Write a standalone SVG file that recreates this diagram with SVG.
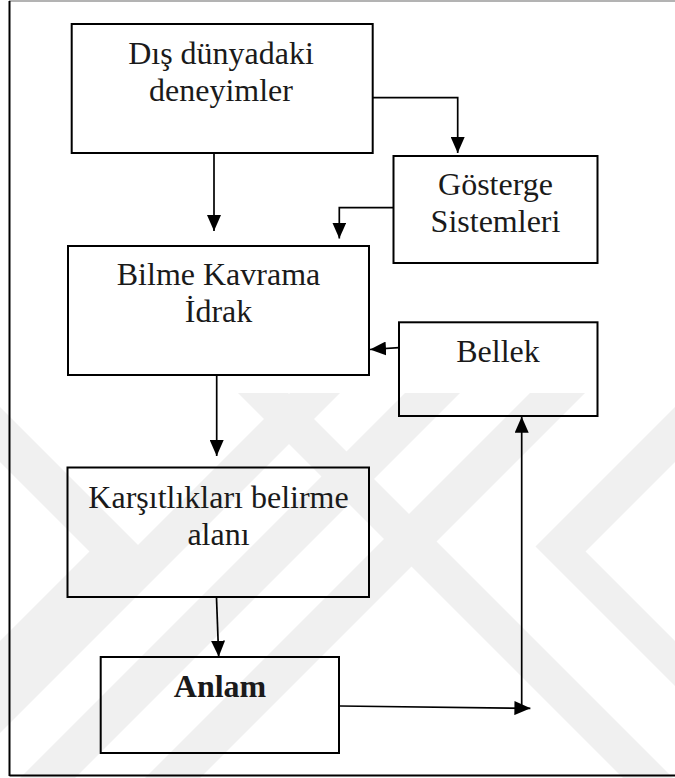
<svg xmlns="http://www.w3.org/2000/svg" width="675" height="778" viewBox="0 0 675 778">
  <style>
    .box { fill: none; stroke: #000; stroke-width: 2; }
    .lbl { font-family: "Liberation Serif", "Times New Roman", serif; font-size: 32px; fill: #1a1a1a; text-anchor: middle; }
    .bold { font-weight: bold; }
    .conn { fill: none; stroke: #000; stroke-width: 1.7; }
    .wm { fill: #f0f0f0; }
  </style>
  <defs>
    <marker id="ah" markerUnits="userSpaceOnUse" markerWidth="16" markerHeight="14" refX="16" refY="7" orient="auto">
      <path d="M0,0 L16,7 L0,14 z" fill="#000"/>
    </marker>
  </defs>
  <rect x="0" y="0" width="675" height="778" fill="#fff"/>
  <g id="watermark">
    <polygon class="wm" points="290,393 340,393 -45,778 -95,778"/>
    <polygon class="wm" points="405,393 460,393 75,778 20,778"/>
    <polygon class="wm" points="530,393 585,393 200,778 145,778"/>
    <polygon class="wm" points="675,407 535.5,546.5 675,686 675,641 585.5,551.5 675,462"/>
    <polygon class="wm" points="238,393 288,393 673,778 623,778"/>
    <polygon class="wm" points="0,407 139.5,546.5 0,686 0,641 89.5,551.5 0,462"/>
  </g>
  <g id="frame">
    <line x1="9" y1="1" x2="675" y2="1" stroke="#9a9a9a" stroke-width="1.5"/>
    <line x1="9.5" y1="1" x2="9.5" y2="776" stroke="#000" stroke-width="2"/>
    <line x1="9.5" y1="775.5" x2="675" y2="775.5" stroke="#000" stroke-width="2"/>
  </g>
  <g id="connectors">
    <path class="conn" d="M214,154 L214,231" marker-end="url(#ah)"/>
    <path class="conn" d="M372.5,97.7 L457.7,97.7 L457.7,153" marker-end="url(#ah)"/>
    <path class="conn" d="M393.5,207.7 L339.3,207.7 L339.3,238.5" marker-end="url(#ah)"/>
    <path class="conn" d="M399,347.7 L370,349.5" marker-end="url(#ah)"/>
    <path class="conn" d="M216.7,376 L216.7,456" marker-end="url(#ah)"/>
    <path class="conn" d="M216.5,597.7 L218.7,656.7" marker-end="url(#ah)"/>
    <path class="conn" d="M340,706 L530.4,708.3" marker-end="url(#ah)"/>
    <path class="conn" d="M521.7,706 L521.7,416.7" marker-end="url(#ah)"/>
  </g>
  <g id="dis-dunya">
    <rect class="box" x="71.7" y="24" width="301" height="129"/>
    <text class="lbl" x="221" y="64">Dış dünyadaki</text>
    <text class="lbl" x="221" y="100.5">deneyimler</text>
  </g>
  <g id="gosterge">
    <rect class="box" x="393.5" y="156" width="204" height="107"/>
    <text class="lbl" x="495.5" y="195">Gösterge</text>
    <text class="lbl" x="495.5" y="232">Sistemleri</text>
  </g>
  <g id="bilme">
    <rect class="box" x="68" y="246" width="301" height="129"/>
    <text class="lbl" x="218.5" y="285">Bilme Kavrama</text>
    <text class="lbl" x="218.5" y="321.5">İdrak</text>
  </g>
  <g id="bellek">
    <rect class="box" x="399" y="322.3" width="198.5" height="93.7"/>
    <text class="lbl" x="498" y="362">Bellek</text>
  </g>
  <g id="karsitliklari">
    <rect class="box" x="67.5" y="467.5" width="301.5" height="129.5"/>
    <text class="lbl" x="218.5" y="508">Karşıtlıkları belirme</text>
    <text class="lbl" x="218.5" y="544.5">alanı</text>
  </g>
  <g id="anlam">
    <rect class="box" x="100.7" y="657" width="238.3" height="96"/>
    <text class="lbl bold" x="220" y="697">Anlam</text>
  </g>
</svg>
